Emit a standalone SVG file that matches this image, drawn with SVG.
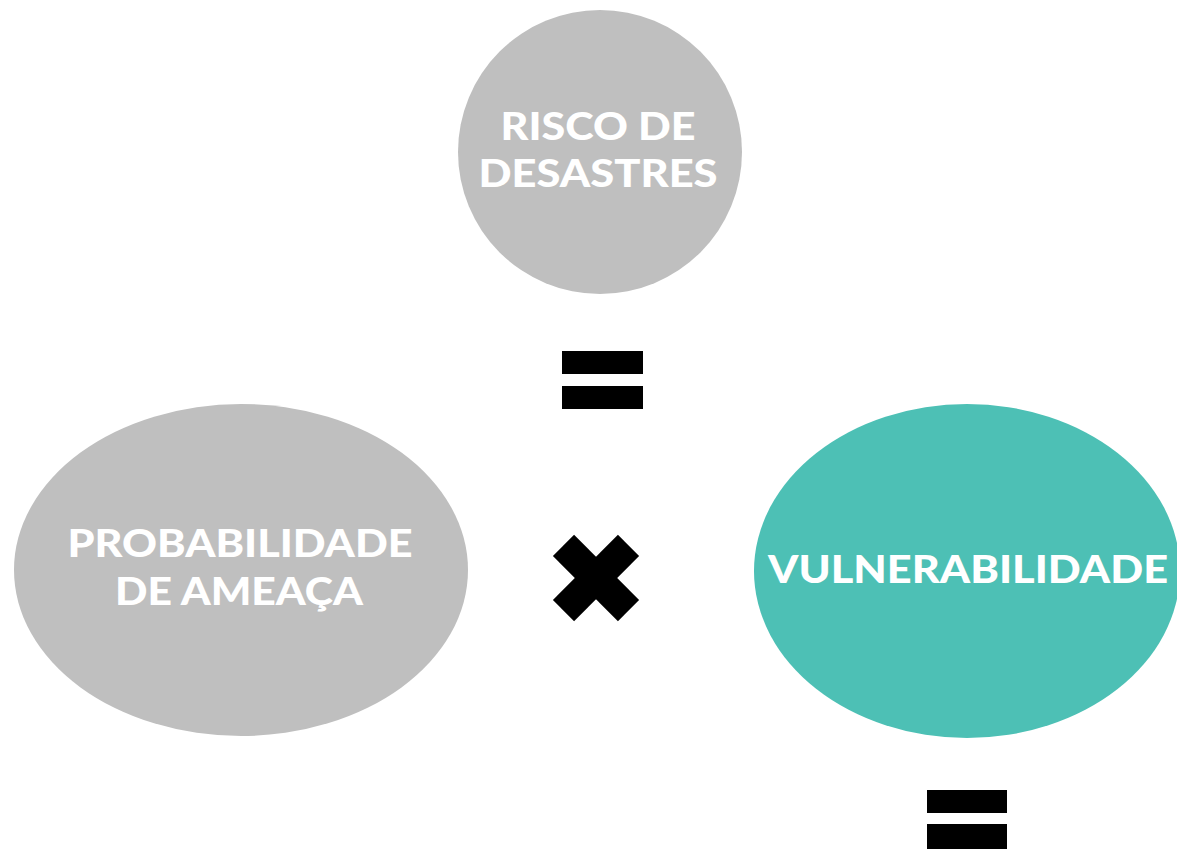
<svg xmlns="http://www.w3.org/2000/svg" width="1177" height="849" viewBox="0 0 1177 849">
<style>
.lbl{font-family:Lato,"Liberation Sans",sans-serif;font-weight:900;fill:#ffffff;text-anchor:middle;font-size:38px}
.gray{fill:#bfbfbf}
.teal{fill:#4dc0b5}
.op{fill:#000000}
</style>
<rect width="1177" height="849" fill="#ffffff"/>
<g id="risco">
<circle class="gray" cx="600" cy="152" r="142"/>
<text class="lbl" x="598" y="140" textLength="195" lengthAdjust="spacingAndGlyphs">RISCO DE</text>
<text class="lbl" x="598" y="187" textLength="239" lengthAdjust="spacingAndGlyphs">DESASTRES</text>
</g>
<g id="probabilidade">
<ellipse class="gray" cx="241" cy="570" rx="227" ry="166"/>
<text class="lbl" x="240" y="557" textLength="345" lengthAdjust="spacingAndGlyphs">PROBABILIDADE</text>
<text class="lbl" x="239" y="605" textLength="248" lengthAdjust="spacingAndGlyphs">DE AMEAÇA</text>
</g>
<g id="vulnerabilidade">
<ellipse class="teal" cx="967" cy="571" rx="213" ry="167"/>
<text class="lbl" x="968" y="583" textLength="400" lengthAdjust="spacingAndGlyphs">VULNERABILIDADE</text>
</g>
<g id="operadores">
<rect class="op" x="562" y="351" width="81" height="23"/>
<rect class="op" x="562" y="386" width="81" height="23"/>
<g transform="translate(596 578) rotate(45)">
<rect class="op" x="-46" y="-15" width="92" height="30"/>
<rect class="op" x="-15" y="-46" width="30" height="92"/>
</g>
<rect class="op" x="927" y="790" width="80" height="23"/>
<rect class="op" x="927" y="824" width="80" height="30"/>
</g>
</svg>
